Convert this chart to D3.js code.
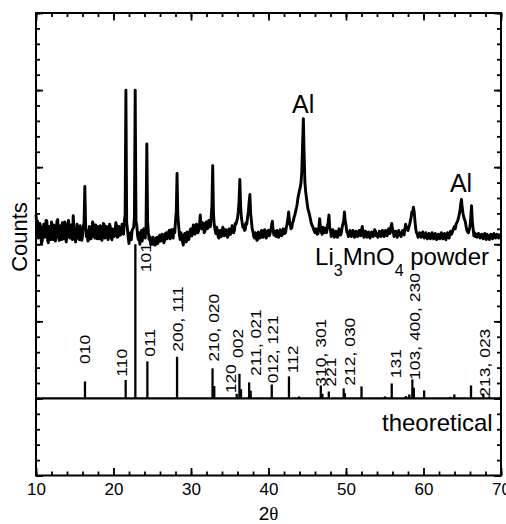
<!DOCTYPE html>
<html>
<head>
<meta charset="utf-8">
<script src="https://cdn.jsdelivr.net/npm/d3@7/dist/d3.min.js"></script>
<style>
  html, body { margin: 0; padding: 0; background: #fff; }
  svg { display: block; font-family: "Liberation Sans", Arial, sans-serif; }
</style>
</head>
<body>
<svg id="chart" width="506" height="524"></svg>
<script>
// Measured XRD pattern of Li3MnO4 powder: counts sampled every 0.1 degree 2-theta from 10 to 70
const thetaStart = 10;
const thetaStep = 0.1;
const measuredCounts = [
  3380, 3250, 3300, 3080, 3100, 3270, 3220, 3010, 3040, 3200,   // 10
  3260, 3090, 3130, 3310, 3300, 3050, 3020, 3230, 3180, 3060,   // 11
  3290, 3120, 3060, 3250, 3230, 3040, 3110, 3300, 3320, 3100,   // 12
  3050, 3240, 3190, 3060, 3280, 3150, 3070, 3290, 3240, 3030,   // 13
  3120, 3260, 3310, 3090, 3080, 3250, 3210, 3060, 3370, 3200,   // 14
  3150, 3030, 3090, 3260, 3200, 3080, 3060, 3240, 3170, 3050,   // 15
  3110, 3230, 3280, 3750, 3260, 3100, 3180, 3040, 3060, 3230,   // 16
  3210, 3070, 3120, 3290, 3260, 3100, 3080, 3250, 3190, 3070,   // 17
  3230, 3110, 3070, 3240, 3200, 3050, 3110, 3270, 3250, 3080,   // 18
  3090, 3230, 3170, 3060, 3130, 3260, 3220, 3080, 3060, 3200,   // 19
  3190, 3100, 3150, 3280, 3240, 3090, 3100, 3230, 3200, 3120,   // 20
  3140, 3260, 3230, 3130, 3300, 3380, 5000, 3280, 3200, 3090,   // 21
  3010, 3120, 3150, 3060, 3180, 3200, 3220, 3350, 5000, 3300,   // 22
  3250, 3120, 3060, 3150, 3000, 3070, 3180, 3040, 3120, 3200,   // 23
  3160, 3080, 3250, 4300, 3300, 3150, 3060, 3100, 3000, 3050,   // 24
  3000, 3090, 3040, 2990, 2990, 3080, 3090, 3010, 3030, 3110,   // 25
  3120, 3040, 3060, 3130, 3100, 3020, 3050, 3140, 3150, 3070,   // 26
  3090, 3160, 3180, 3070, 3110, 3190, 3140, 3080, 3200, 3150,   // 27
  3300, 3420, 3920, 3380, 3250, 3120, 3060, 3150, 3120, 3040,   // 28
  2990, 3100, 3140, 3050, 3030, 3160, 3150, 3060, 3100, 3190,   // 29
  3200, 3110, 3140, 3250, 3230, 3130, 3160, 3260, 3240, 3150,   // 30
  3180, 3250, 3380, 3220, 3200, 3280, 3260, 3150, 3170, 3280,   // 31
  3290, 3200, 3210, 3310, 3300, 3230, 3350, 3500, 4020, 3400,   // 32
  3250, 3190, 3140, 3220, 3190, 3100, 3080, 3170, 3180, 3100,   // 33
  3130, 3220, 3200, 3110, 3120, 3190, 3170, 3090, 3110, 3200,   // 34
  3190, 3130, 3160, 3240, 3210, 3150, 3180, 3270, 3260, 3300,   // 35
  3340, 3420, 3560, 3840, 3500, 3350, 3280, 3220, 3250, 3180,   // 36
  3190, 3280, 3260, 3350, 3420, 3550, 3645, 3400, 3300, 3200,   // 37
  3160, 3100, 3080, 3150, 3130, 3050, 3060, 3160, 3140, 3080,   // 38
  3090, 3180, 3170, 3090, 3120, 3190, 3150, 3080, 3110, 3170,   // 39
  3180, 3110, 3140, 3180, 3250, 3300, 3170, 3120, 3170, 3110,   // 40
  3100, 3180, 3160, 3090, 3120, 3190, 3170, 3110, 3130, 3200,   // 41
  3190, 3140, 3150, 3220, 3260, 3330, 3420, 3300, 3250, 3200,   // 42
  3210, 3280, 3300, 3350, 3380, 3430, 3470, 3520, 3600, 3650,   // 43
  3700, 3740, 3800, 3950, 4300, 4630, 4150, 3800, 3680, 3600,   // 44
  3520, 3450, 3420, 3380, 3330, 3280, 3250, 3230, 3200, 3170,   // 45
  3150, 3200, 3190, 3130, 3140, 3210, 3330, 3220, 3170, 3130,   // 46
  3220, 3170, 3150, 3210, 3190, 3150, 3240, 3280, 3380, 3220,   // 47
  3180, 3100, 3120, 3190, 3160, 3090, 3100, 3170, 3150, 3090,   // 48
  3120, 3200, 3180, 3120, 3150, 3220, 3260, 3300, 3420, 3300,   // 49
  3250, 3160, 3150, 3100, 3120, 3180, 3160, 3100, 3130, 3180,   // 50
  3150, 3090, 3110, 3170, 3140, 3100, 3120, 3180, 3160, 3110,   // 51
  3180, 3230, 3150, 3090, 3120, 3170, 3140, 3090, 3100, 3160,   // 52
  3130, 3080, 3110, 3160, 3150, 3100, 3130, 3190, 3170, 3110,   // 53
  3140, 3090, 3120, 3170, 3160, 3100, 3130, 3180, 3150, 3100,   // 54
  3120, 3180, 3170, 3110, 3140, 3200, 3190, 3140, 3230, 3270,   // 55
  3200, 3160, 3100, 3130, 3170, 3150, 3090, 3120, 3180, 3120,   // 56
  3150, 3100, 3130, 3180, 3160, 3120, 3200, 3260, 3200, 3190,   // 57
  3180, 3220, 3250, 3300, 3350, 3420, 3400, 3480, 3420, 3300,   // 58
  3200, 3150, 3130, 3090, 3100, 3150, 3140, 3090, 3110, 3160,   // 59
  3130, 3080, 3100, 3150, 3120, 3070, 3090, 3140, 3110, 3070,   // 60
  3100, 3150, 3120, 3070, 3090, 3140, 3110, 3060, 3080, 3130,   // 61
  3100, 3070, 3120, 3150, 3090, 3070, 3110, 3140, 3080, 3060,   // 62
  3120, 3150, 3100, 3080, 3140, 3170, 3130, 3150, 3180, 3210,   // 63
  3230, 3200, 3260, 3280, 3300, 3340, 3380, 3430, 3520, 3580,   // 64
  3470, 3400, 3350, 3320, 3290, 3230, 3180, 3160, 3150, 3190,   // 65
  3230, 3350, 3500, 3300, 3200, 3110, 3150, 3100, 3130, 3090,   // 66
  3100, 3140, 3120, 3080, 3090, 3130, 3110, 3070, 3110, 3140,   // 67
  3100, 3060, 3130, 3110, 3090, 3060, 3110, 3130, 3100, 3070,   // 68
  3120, 3140, 3090, 3080, 3110, 3130, 3100, 3080, 3120, 3090,   // 69
  3100                                                          // 70
];

// Calculated reflections: position (2-theta) and relative intensity (%)
const refTheta = [16.32, 21.57, 22.82, 24.37, 28.20, 32.78, 33.00, 35.90, 36.25, 36.45,
                  37.50, 37.70, 40.42, 42.64, 43.95, 46.75, 46.95, 47.78, 49.70, 49.85,
                  52.00, 55.03, 55.90, 57.74, 58.17, 58.56, 58.75, 60.08, 63.50, 63.98,
                  66.13, 67.72, 68.50, 69.90];
const refIntensity = [11, 12, 100, 24, 27, 19.5, 8, 3, 16, 6,
                      10.4, 5, 9, 14.3, 1.3, 8.4, 3, 4.5, 6.5, 3.5,
                      7.8, 1.3, 9.7, 1.5, 2.6, 12.3, 7, 5.2, 1, 2.6,
                      8.4, 3.2, 1.3, 1];

// Miller-index annotations: text, 2-theta and count level where each label starts
const hklText  = ["010", "110", "101", "011", "200, 111", "210, 020", "120", "002",
                  "211, 021", "012, 121", "112", "310, 301", "221", "212, 030",
                  "131", "103, 400, 230", "213, 023"];
const hklTheta = [16.32, 21.14, 24.15, 24.67, 28.28, 32.97, 35.12, 36.10,
                  38.39, 40.58, 43.12, 46.77, 48.06, 50.52,
                  56.41, 58.90, 67.94];
const hklBase  = [1447, 1282, 2636, 1541, 1606, 1476, 1066, 1524,
                  1291, 1196, 1326, 1152, 1152, 1165,
                  1261, 1239, 1022];

// Axis ticks
const xMajorTicks = [10, 20, 30, 40, 50, 60, 70];
const xMinorTicks = d3.range(10, 70.001, 2);
const yMajorTicks = d3.range(0, 6001, 1000);
const yMinorTicks = d3.range(0, 6001, 200);

// The calculated pattern sits on an offset baseline below the measured one
const theoreticalOffset = 1000;
const countsPerPercent = 20;

const svg = d3.select("#chart");
const x = d3.scaleLinear().domain([10, 70]).range([36, 501]);
const y = d3.scaleLinear().domain([0, 6000]).range([475.5, 13]);

// ---- measured pattern ----
const line = d3.line()
  .x((d, i) => x(thetaStart + i * thetaStep))
  .y(d => y(d));
svg.append("path")
  .datum(measuredCounts)
  .attr("d", line)
  .attr("fill", "none")
  .attr("stroke", "#000")
  .attr("stroke-width", 2.9)
  .attr("stroke-linejoin", "round");

// ---- theoretical pattern ----
svg.append("line")
  .attr("x1", x(10)).attr("x2", x(70))
  .attr("y1", y(theoreticalOffset)).attr("y2", y(theoreticalOffset))
  .attr("stroke", "#000").attr("stroke-width", 2.2);

svg.append("g").selectAll("line")
  .data(refTheta)
  .join("line")
  .attr("x1", d => x(d)).attr("x2", d => x(d))
  .attr("y1", y(theoreticalOffset))
  .attr("y2", (d, i) => y(theoreticalOffset + refIntensity[i] * countsPerPercent))
  .attr("stroke", "#000")
  .attr("stroke-width", 2.3);

// hkl labels, rotated to read upward
svg.append("g").selectAll("text")
  .data(hklText)
  .join("text")
  .attr("transform", (d, i) => `translate(${x(hklTheta[i])},${y(hklBase[i])}) rotate(-90) scale(1.25,1)`)
  .attr("dy", "0.35em")
  .attr("font-size", 14)
  .attr("fill", "#000")
  .text(d => d);

// ---- axes (ticks point inward on all four sides) ----
function styleAxis(g) {
  g.select(".domain").remove();
  g.selectAll(".tick line").attr("stroke", "#000").attr("stroke-width", 1.8);
  g.selectAll(".tick text").attr("fill", "#000").attr("font-size", 17)
    .attr("font-family", "'Liberation Sans', Arial, sans-serif");
}

svg.append("g")
  .attr("transform", `translate(0,${y(0)})`)
  .call(d3.axisBottom(x).tickValues(xMinorTicks).tickSize(-4).tickFormat(""))
  .call(styleAxis);
svg.append("g")
  .attr("transform", `translate(0,${y(0)})`)
  .call(d3.axisBottom(x).tickValues(xMajorTicks).tickSize(-7.5).tickPadding(7).tickFormat(d3.format("d")))
  .call(styleAxis);

svg.append("g")
  .attr("transform", `translate(0,${y(6000)})`)
  .call(d3.axisTop(x).tickValues(xMinorTicks).tickSize(-4).tickFormat(""))
  .call(styleAxis);
svg.append("g")
  .attr("transform", `translate(0,${y(6000)})`)
  .call(d3.axisTop(x).tickValues(xMajorTicks).tickSize(-7.5).tickFormat(""))
  .call(styleAxis);

svg.append("g")
  .attr("transform", `translate(${x(10)},0)`)
  .call(d3.axisLeft(y).tickValues(yMinorTicks).tickSize(-4).tickFormat(""))
  .call(styleAxis);
svg.append("g")
  .attr("transform", `translate(${x(10)},0)`)
  .call(d3.axisLeft(y).tickValues(yMajorTicks).tickSize(-7).tickFormat(""))
  .call(styleAxis);

svg.append("g")
  .attr("transform", `translate(${x(70)},0)`)
  .call(d3.axisRight(y).tickValues(yMinorTicks).tickSize(-4).tickFormat(""))
  .call(styleAxis);
svg.append("g")
  .attr("transform", `translate(${x(70)},0)`)
  .call(d3.axisRight(y).tickValues(yMajorTicks).tickSize(-7).tickFormat(""))
  .call(styleAxis);

// plot frame
svg.append("rect")
  .attr("x", x(10)).attr("y", y(6000))
  .attr("width", x(70) - x(10)).attr("height", y(0) - y(6000))
  .attr("fill", "none").attr("stroke", "#000").attr("stroke-width", 2);

// ---- annotations ----
svg.append("text")
  .attr("x", x(44.48)).attr("y", y(4703))
  .attr("text-anchor", "middle").attr("font-size", 25)
  .text("Al");
svg.append("text")
  .attr("x", x(64.84)).attr("y", y(3678))
  .attr("text-anchor", "middle").attr("font-size", 25)
  .text("Al");

const sample = svg.append("text")
  .attr("x", x(68.45)).attr("y", y(2731))
  .attr("text-anchor", "end").attr("font-size", 24);
sample.append("tspan").text("Li");
sample.append("tspan").attr("font-size", 16).attr("dy", 11).text("3");
sample.append("tspan").attr("dy", -11).text("MnO");
sample.append("tspan").attr("font-size", 16).attr("dy", 11).text("4");
sample.append("tspan").attr("dy", -11).text(" powder");

svg.append("text")
  .attr("x", x(68.93)).attr("y", y(581))
  .attr("text-anchor", "end").attr("font-size", 24)
  .text("theoretical");

// axis titles
svg.append("text")
  .attr("transform", "translate(27,237) rotate(-90)")
  .attr("text-anchor", "middle").attr("font-size", 22)
  .text("Counts");

const xTitle = svg.append("text")
  .attr("x", x(40)).attr("y", 520)
  .attr("text-anchor", "middle").attr("font-size", 19);
xTitle.append("tspan").text("2");
xTitle.append("tspan").attr("font-family", "'Liberation Serif', serif").text("θ");
</script>
</body>
</html>
